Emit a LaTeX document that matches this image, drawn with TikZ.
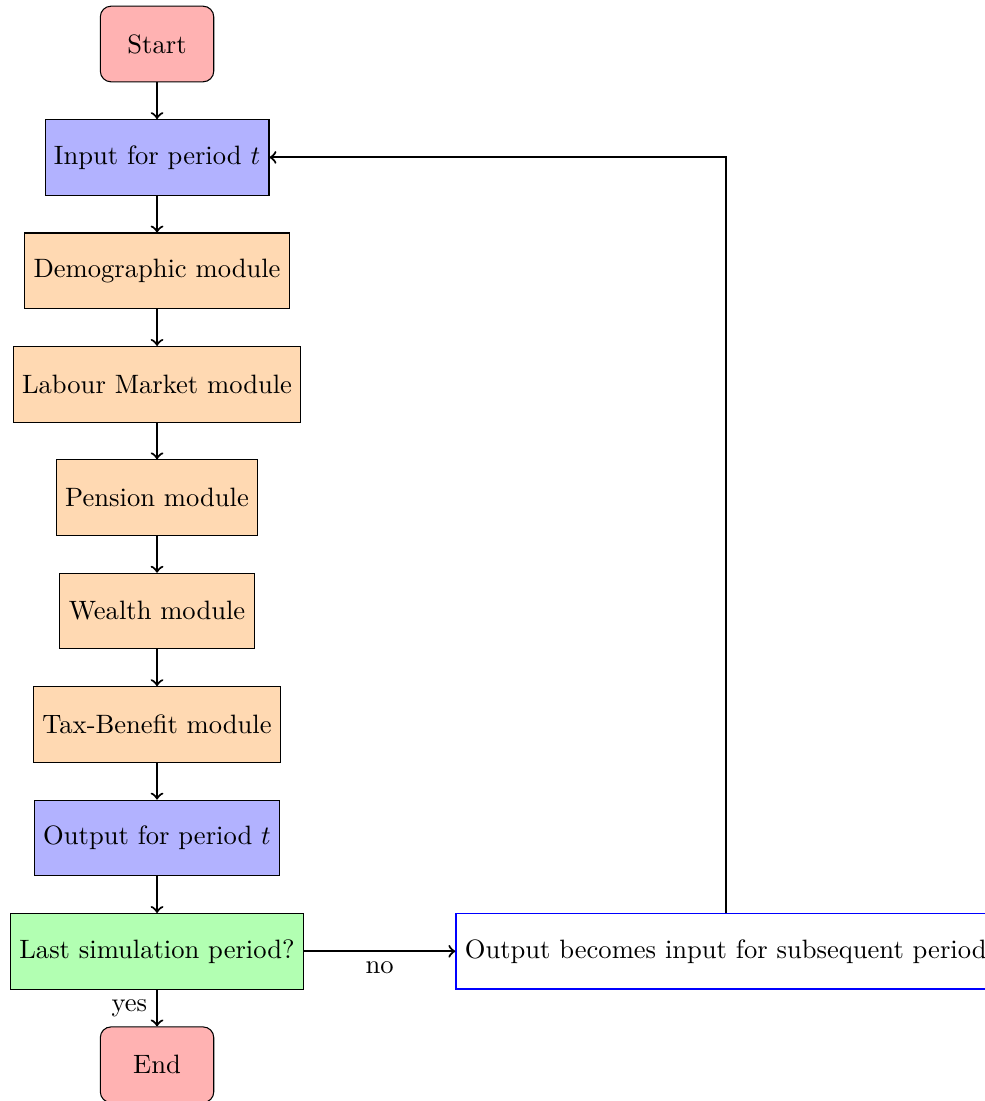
\documentclass[tikz,border=0pt]{standalone}
\usetikzlibrary{positioning}
\definecolor{boxblue}{RGB}{0,0,255}
\begin{document}
\begin{tikzpicture}[
  startstop/.style={rectangle, rounded corners, minimum width=1.5cm, minimum height=1cm, text centered, draw=black, fill=red!30},
  io/.style={rectangle, minimum width=1.5cm, minimum height=1cm, text centered, draw=black, fill=blue!30},
  process/.style={rectangle, minimum width=1.5cm, minimum height=1cm, text centered, draw=black, fill=orange!30},
  decision/.style={rectangle, minimum width=1.5cm, minimum height=1cm, text centered, draw=black, fill=green!30},
  loopbox/.style={rectangle, minimum width=1.5cm, minimum height=1cm, text centered, color=boxblue, draw=boxblue, text=black, fill=white, line width=0.5pt},
  arrow/.style={thick, ->, >=to}
]
\useasboundingbox (-2.077,-13.98) rectangle (10.94,0.582);
\node[startstop] (start) at (0,0) {Start};
\node[io] (in) at (0,-1.5) {Input for period $t$};
\node[process] (demo) at (0,-3) {Demographic module};
\node[process] (lab) at (0,-4.5) {Labour Market module};
\node[process] (pen) at (0,-6) {Pension module};
\node[process] (wea) at (0,-7.5) {Wealth module};
\node[process] (tax) at (0,-9) {Tax-Benefit module};
\node[io] (out) at (0,-10.5) {Output for period $t$};
\node[decision] (last) at (0,-12) {Last simulation period?};
\node[startstop] (end) at (0,-13.5) {End};
\node[loopbox, right=2cm of last] (fb) {Output becomes input for subsequent period};

\draw[arrow] (start) -- (in);
\draw[arrow] (in) -- (demo);
\draw[arrow] (demo) -- (lab);
\draw[arrow] (lab) -- (pen);
\draw[arrow] (pen) -- (wea);
\draw[arrow] (wea) -- (tax);
\draw[arrow] (tax) -- (out);
\draw[arrow] (out) -- (last);
\draw[arrow] (last) -- node[left] {yes} (end);
\draw[arrow] (last) -- node[below] {no} (fb);
\draw[arrow] (fb.north) |- (in.east);
\end{tikzpicture}
\end{document}
